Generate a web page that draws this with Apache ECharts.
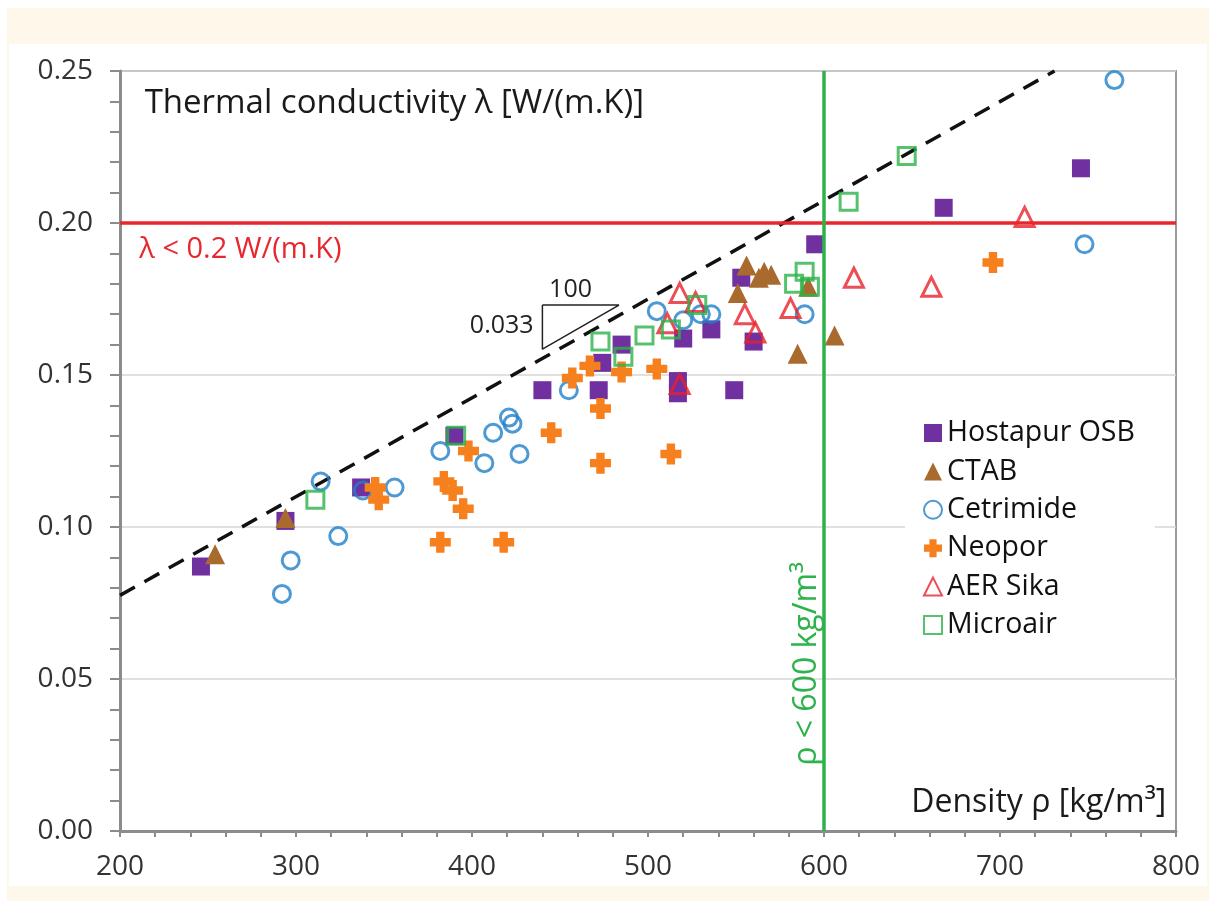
<!DOCTYPE html>
<html>
<head>
<meta charset="utf-8">
<title>Thermal conductivity vs density</title>
<script src="https://cdn.jsdelivr.net/npm/echarts@6/dist/echarts.min.js"></script>
<style>
  html, body { margin: 0; padding: 0; background: #fff; }
  .frame { position: absolute; left: 7px; top: 8px; width: 1202px; height: 893px; background: #fdf8ea; }
  #chart { position: absolute; left: 9px; top: 44px; width: 1198px; height: 842px; background: #fff; }
</style>
</head>
<body>
<div class="frame"></div>
<div id="chart"></div>
<script>
// data: [density kg/m3, lambda W/(m.K)]
var hostapur = [[246,0.087],[294,0.102],[337,0.113],[390,0.130],[440,0.145],[472,0.145],[474,0.154],[485,0.160],
  [517,0.148],[517,0.144],[520,0.162],[536,0.165],[549,0.145],[553,0.182],[560,0.161],[595,0.193],[668,0.205],[746,0.218]];
var ctab = [[254,0.091],[294,0.103],[551,0.177],[556,0.186],[563,0.182],[566,0.184],[570,0.183],[585,0.157],[591,0.179],[606,0.163]];
var cetrimide = [[292,0.078],[297,0.089],[314,0.115],[324,0.097],[338,0.112],[356,0.113],[382,0.125],[407,0.121],[412,0.131],
  [421,0.136],[423,0.134],[427,0.124],[455,0.145],[505,0.171],[520,0.168],[530,0.170],[536,0.170],[589,0.170],[748,0.193],[765,0.247]];
var neopor = [[345,0.113],[347,0.109],[382,0.095],[384,0.115],[389,0.112],[395,0.106],[398,0.125],[418,0.095],[445,0.131],
  [457,0.149],[467,0.153],[473,0.139],[473,0.121],[485,0.151],[505,0.152],[513,0.124],[696,0.187]];
var aerSika = [[511,0.167],[518,0.177],[518,0.147],[527,0.174],[555,0.170],[561,0.164],[581,0.172],[617,0.182],[661,0.179],[714,0.202]];
var microair = [[311,0.109],[391,0.130],[473,0.161],[486,0.156],[498,0.163],[513,0.165],[528,0.173],[583,0.180],[589,0.184],
  [592,0.179],[614,0.207],[647,0.222]];

var seriesNames = ['Hostapur OSB', 'CTAB', 'Cetrimide', 'Neopor', 'AER Sika', 'Microair'];

// upper bound line, slope 0.033 per 100 kg/m3
var boundLine = [[200,0.0775],[731,0.25]];
// slope triangle 100 / 0.033
var slopeTri = [[440,0.173],[483.5,0.173],[440,0.1585],[440,0.173]];
var lambdaLimit = 0.2;
var densityLimit = 600;

var xTicks = [200, 800, 100];
var yTicks = [0, 0.25, 0.05];

var FONT = '"Open Sans", "Noto Sans", sans-serif';
var plusPath = 'path://M6,0H14V6H20V14H14V20H6V14H0V6H6Z';

var chartDom = document.getElementById('chart');
var myChart = echarts.init(chartDom);

function scatter(name, data, symbol, size, color, open) {
  return {
    name: name,
    type: 'scatter',
    data: data,
    symbol: symbol,
    symbolSize: size,
    z: 3,
    itemStyle: open ? { color: 'rgba(255,255,255,0)', borderColor: color, borderWidth: 3 } : { color: color, opacity: 1 },
    emphasis: { disabled: true }
  };
}

var option = {
  animation: false,
  backgroundColor: '#fff',
  textStyle: { fontFamily: FONT },
  grid: { left: 111, top: 27, right: 31, bottom: 55, show: true, borderColor: '#9a9a9a', borderWidth: 2, backgroundColor: 'transparent' },
  xAxis: {
    type: 'value', min: xTicks[0], max: xTicks[1], interval: xTicks[2],
    axisLine: { show: true, onZero: false, lineStyle: { color: '#8c8c8c', width: 3 } },
    axisTick: { show: true, length: 6, lineStyle: { color: '#8c8c8c', width: 2 } },
    minorTick: { show: true, splitNumber: 5, length: 6, lineStyle: { color: '#8c8c8c', width: 2 } },
    splitLine: { show: false },
    axisLabel: { color: '#333', fontSize: 28, fontFamily: FONT, margin: 22 }
  },
  yAxis: {
    type: 'value', min: yTicks[0], max: yTicks[1], interval: yTicks[2],
    axisLine: { show: true, onZero: false, lineStyle: { color: '#8c8c8c', width: 3 } },
    axisTick: { show: true, length: 10, lineStyle: { color: '#8c8c8c', width: 2 } },
    minorTick: { show: true, splitNumber: 5, length: 10, lineStyle: { color: '#8c8c8c', width: 2 } },
    splitLine: { show: true, lineStyle: { color: '#d6d6d6', width: 1.5 } },
    axisLabel: { color: '#333', fontSize: 28, fontFamily: FONT, margin: 27, formatter: function (v) { return v.toFixed(2); } }
  },
  legend: {
    data: seriesNames,
    orient: 'vertical',
    left: 896, top: 366,
    padding: [8, 20, 8, 18],
    backgroundColor: '#fff',
    itemWidth: 18, itemHeight: 18, itemGap: 8.4,
    textStyle: { color: '#111', fontSize: 28.5, lineHeight: 30, fontFamily: FONT },
    selectedMode: false
  },
  series: [
    {
      name: 'bound', type: 'line', data: boundLine, showSymbol: false, silent: true, z: 1,
      lineStyle: { color: '#111', width: 3.5, type: [17, 11] },
      markLine: {
        silent: true, symbol: ['none', 'none'], label: { show: false },
        data: [
          { yAxis: lambdaLimit, lineStyle: { color: '#e8262d', width: 3.5, type: 'solid' } },
          { xAxis: densityLimit, lineStyle: { color: '#2db34a', width: 3.5, type: 'solid' } }
        ]
      }
    },
    {
      name: 'slope', type: 'line', data: slopeTri, showSymbol: false, silent: true, z: 1,
      lineStyle: { color: '#222', width: 1.5 }
    },
    scatter('Hostapur OSB', hostapur, 'rect', 18, '#7030a0', false),
    scatter('CTAB', ctab, 'triangle', 20, '#a96a2e', false),
    scatter('Cetrimide', cetrimide, 'circle', 17, '#1f80c8', true),
    scatter('Neopor', neopor, plusPath, 21, '#f7801e', false),
    scatter('AER Sika', aerSika, 'triangle', 19, '#e8202a', true),
    scatter('Microair', microair, 'rect', 17, '#2db34a', true)
  ]
};

option && myChart.setOption(option);

// text annotations anchored in data coordinates
var notes = [
  { text: 'Thermal conductivity λ [W/(m.K)]', at: [214, 0.2394], align: 'left', size: 33, color: '#1a1a1a' },
  { text: 'λ < 0.2 W/(m.K)', at: [211, 0.1913], align: 'left', size: 29, color: '#e8262d' },
  { text: 'Density ρ [kg/m³]', at: [794.5, 0.0091], align: 'right', size: 32, color: '#1a1a1a' },
  { text: '100', at: [456, 0.1779], align: 'center', size: 25, color: '#222' },
  { text: '0.033', at: [435, 0.1663], align: 'right', size: 25, color: '#222' },
  { text: 'ρ < 600 kg/m³', at: [590, 0.055], align: 'center', size: 32, color: '#2db34a', rotate: true }
];

var graphics = notes.map(function (n) {
  var p = myChart.convertToPixel({ gridIndex: 0 }, n.at);
  return {
    type: 'text', x: p[0], y: p[1], z: 10, silent: true,
    rotation: n.rotate ? Math.PI / 2 : 0,
    style: { text: n.text, fill: n.color, font: n.size + 'px ' + FONT, align: n.align, verticalAlign: 'middle' }
  };
});
myChart.setOption({ graphic: graphics });
</script>
</body>
</html>
